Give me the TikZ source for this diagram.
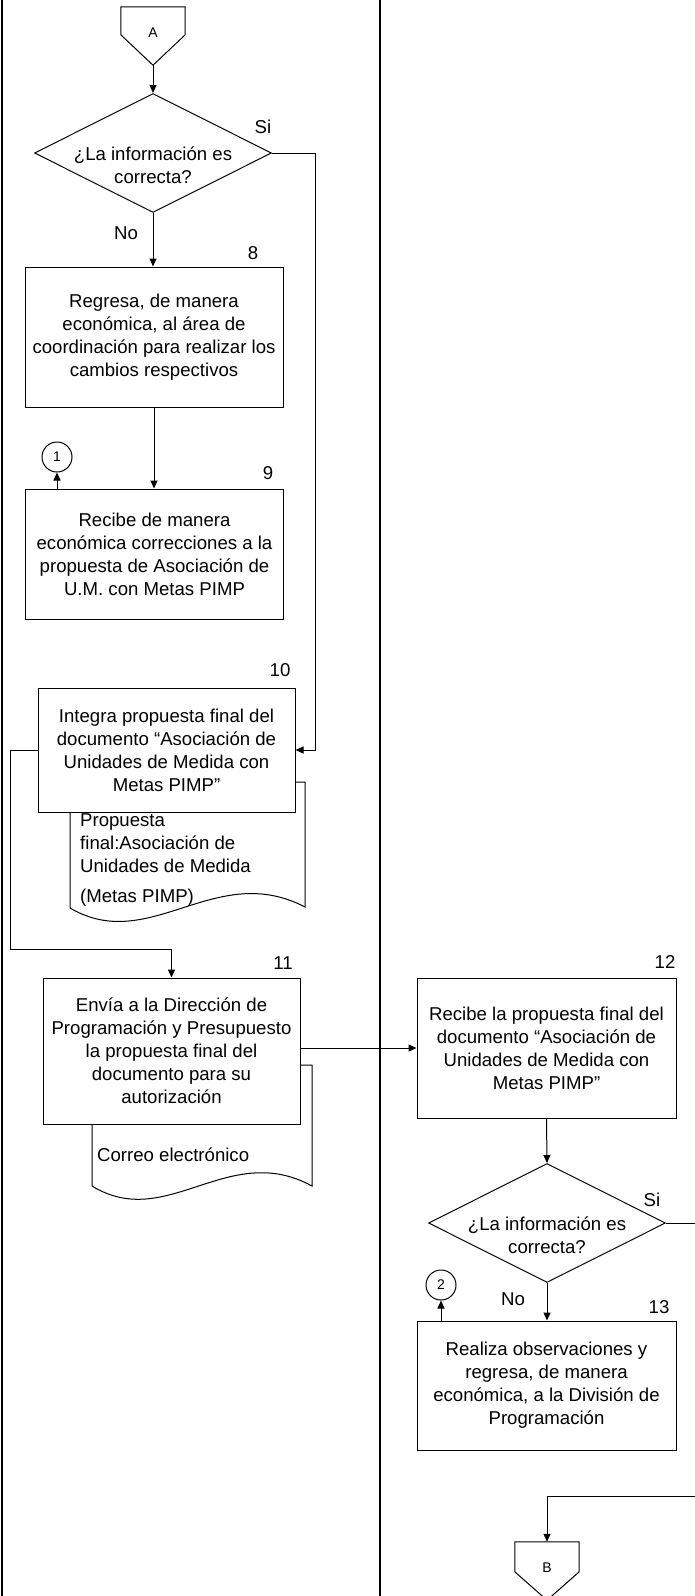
\documentclass[tikz,border=0pt]{standalone}
\usepackage{fontspec}
\setmainfont{Liberation Sans}
\usetikzlibrary{shapes.geometric,arrows.meta}

\tikzset{
  box/.style={draw, fill=white, line width=1pt, align=center, inner sep=0pt,
    minimum width=258pt},
  decision/.style={draw, diamond, fill=white, line width=1pt, inner sep=0pt,
    minimum width=237pt, minimum height=119pt},
  link/.style={draw, circle, line width=1pt, inner sep=0pt, minimum size=30pt,
    font=\fontsize{14pt}{16pt}\selectfont},
  offpage/.style={inner sep=0pt, minimum width=64pt, minimum height=58pt,
    font=\fontsize{14pt}{16pt}\selectfont},
  doctext/.style={anchor=north west, align=left, inner sep=0pt},
  arr/.style={-{Triangle[length=8pt,width=7pt]}, line width=1pt},
  lane/.style={line width=2.5pt},
}

\begin{document}
\begin{tikzpicture}[x=1pt, y=-1pt, font={\fontsize{18.6pt}{23pt}\selectfont}]
  \useasboundingbox (0,0) rectangle (695,1596);

  % swimlanes
  \draw[lane] (2,0) -- (2,1596);
  \draw[lane] (380,0) -- (380,1596);

  % documents
  \draw[line width=1pt, fill=white] (70,782) -- (305,782) -- (305,907)
    .. controls (215,860) and (150,955) .. (70,908) -- cycle;
  \draw[line width=1pt, fill=white] (92,1065) -- (312,1065) -- (312,1186)
    .. controls (228,1140) and (167,1232) .. (92,1186) -- cycle;
  \node[doctext] (t1) at (80,813)
    {Propuesta\\final:Asociación de\\Unidades de Medida\\[7pt](Metas PIMP)};
  \node[doctext] (t2) at (97,1148) {Correo electrónico};

  % connector A
  \node[offpage] (A) at (153,36) {\raisebox{6pt}{A}};
  \draw[line width=1pt] (A.north west) -- (A.north east) -- ([yshift=-28pt]A.north east)
    -- (A.south) -- ([yshift=-28pt]A.north west) -- cycle;

  % left lane
  \node[decision, label={[align=center, yshift=-12pt]center:¿La información es\\correcta?}]
    (d1) at (153,153) {};
  \node[box, minimum height=140pt] (b8) at (154,337)
    {Regresa, de manera\\económica, al área de\\coordinación para realizar los\\cambios respectivos};
  \node[box, minimum height=130pt] (b9) at (154.5,554)
    {Recibe de manera\\económica correcciones a la\\propuesta de Asociación de\\U.M. con Metas PIMP};
  \node[link] (c1) at (57,457) {1};
  \node[box, minimum width=257pt, minimum height=124pt] (b10) at (166.5,750)
    {Integra propuesta final del\\documento “Asociación de\\Unidades de Medida con\\Metas PIMP”};
  \node[box, minimum width=257pt, minimum height=146pt] (b11) at (171.5,1051)
    {Envía a la Dirección de\\Programación y Presupuesto\\la propuesta final del\\documento para su\\autorización};

  % right lane
  \node[box, minimum width=259pt, minimum height=140pt] (b12) at (546.5,1048)
    {Recibe la propuesta final del\\documento “Asociación de\\Unidades de Medida con\\Metas PIMP”};
  \node[decision, label={[align=center, yshift=-12pt]center:¿La información es\\correcta?}]
    (d2) at (547,1223) {};
  \node[box, minimum width=259pt, minimum height=129pt] (b13) at (546.5,1385.5)
    {Realiza observaciones y\\regresa, de manera\\económica, a la División de\\Programación};
  \node[link] (c2) at (441,1285) {2};

  % connector B
  \node[offpage] (B) at (547,1571) {\raisebox{7pt}{B}};
  \draw[line width=1pt] (B.north west) -- (B.north east) -- ([yshift=-30pt]B.north east)
    -- (B.south) -- ([yshift=-30pt]B.north west) -- cycle;

  % step numbers and answers
  \node (n8) at (253,253) {8};
  \node (n9) at (268,473) {9};
  \node (n10) at (280,670) {10};
  \node (n11) at (283,963) {11};
  \node (n12) at (665,962) {12};
  \node (n13) at (659,1307) {13};
  \node (si1) at (263,127) {Si};
  \node (no1) at (126,233) {No};
  \node (si2) at (652,1200) {Si};
  \node (no2) at (513,1299) {No};

  % flow
  \coordinate (s1) at (315,750);
  \coordinate (w1) at (10,949);
  \coordinate (e1) at (705,1223);
  \coordinate (e2) at (705,1496);
  \draw[arr] (A.south) -- (d1.north);
  \draw[arr] (d1.south) -- (d1.south |- b8.north);
  \draw[arr] (b8.south) -- (b8.south |- b9.north);
  \draw[arr] (c1.south |- b9.north) -- (c1.south);
  \draw[arr] (d1.east) -| (s1) -- (b10.east);
  \draw[arr] (b10.west) -| (w1) -| (b11.north);
  \draw[arr] (b11.east |- b12.west) -- (b12.west);
  \draw[arr] (b12.south) -- (d2.north);
  \draw[arr] (d2.south) -- (d2.south |- b13.north);
  \draw[arr] (c2.south |- b13.north) -- (c2.south);
  \draw[arr] (d2.east) -- (e1) -- (e2) -| (B.north);
\end{tikzpicture}
\end{document}
